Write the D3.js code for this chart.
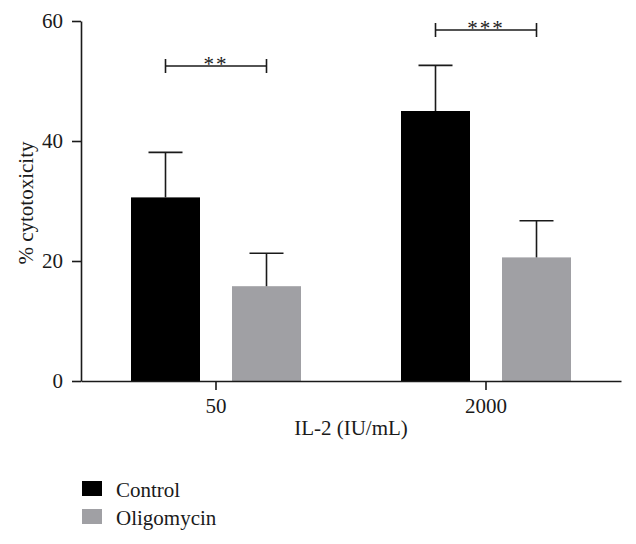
<!DOCTYPE html>
<html>
<head>
<meta charset="utf-8">
<script src="https://cdn.jsdelivr.net/npm/d3@7"></script>
<style>
  body { margin: 0; background: #fff; }
  svg { display: block; }
  text { font-family: "Liberation Serif", "DejaVu Serif", serif; fill: #1a1a1a; }
</style>
</head>
<body>
<svg id="chart" width="636" height="544"></svg>
<script>
const categories = ["50", "2000"];
const seriesNames = ["Control", "Oligomycin"];
const controlValues = [30.6, 45.0];
const controlErrors = [7.5, 7.6];
const oligomycinValues = [15.8, 20.6];
const oligomycinErrors = [5.5, 6.1];
const yTicks = [0, 20, 40, 60];
const significance = ["**", "***"];
const colors = { Control: "#000000", Oligomycin: "#a0a0a4" };

const data = categories.map((c, i) => ({
  cat: c,
  bars: [
    { series: "Control", value: controlValues[i], err: controlErrors[i] },
    { series: "Oligomycin", value: oligomycinValues[i], err: oligomycinErrors[i] }
  ]
}));

const svg = d3.select("#chart");
const mLeft = 81, mRight = 621, mTop = 21, mBottom = 381;
const FS = 21;

const y = d3.scaleLinear().domain([0, 60]).range([mBottom, mTop]);
const x0 = d3.scaleBand().domain(categories).range([mLeft, mRight])
  .paddingInner(100 / 270).paddingOuter(50 / 270);
const x1 = d3.scaleBand().domain(seriesNames).range([0, x0.bandwidth()])
  .paddingInner(32 / 101).paddingOuter(0);

// bars
const groups = svg.selectAll("g.grp").data(data).enter().append("g")
  .attr("class", "grp")
  .attr("transform", d => `translate(${x0(d.cat)},0)`);

groups.selectAll("rect").data(d => d.bars).enter().append("rect")
  .attr("x", d => x1(d.series))
  .attr("y", d => y(d.value))
  .attr("width", x1.bandwidth())
  .attr("height", d => y(0) - y(d.value))
  .attr("fill", d => colors[d.series]);

// error bars (upper only)
const capHalf = 17;
groups.selectAll("g.err").data(d => d.bars).enter().append("g")
  .attr("class", "err")
  .each(function(d) {
    const g = d3.select(this);
    const cx = x1(d.series) + x1.bandwidth() / 2;
    g.append("line").attr("x1", cx).attr("x2", cx)
      .attr("y1", y(d.value)).attr("y2", y(d.value + d.err))
      .attr("stroke", "#1a1a1a").attr("stroke-width", 1.6);
    g.append("line").attr("x1", cx - capHalf).attr("x2", cx + capHalf)
      .attr("y1", y(d.value + d.err)).attr("y2", y(d.value + d.err))
      .attr("stroke", "#1a1a1a").attr("stroke-width", 1.6);
  });

// significance brackets
const bracketY = [52.5, 58.5];
groups.each(function(d, i) {
  const g = d3.select(this);
  const xa = x1("Control") + x1.bandwidth() / 2;
  const xb = x1("Oligomycin") + x1.bandwidth() / 2;
  const yy = y(bracketY[i]);
  g.append("line").attr("x1", xa).attr("x2", xb).attr("y1", yy).attr("y2", yy)
    .attr("stroke", "#1a1a1a").attr("stroke-width", 1.6);
  [xa, xb].forEach(xx => g.append("line").attr("x1", xx).attr("x2", xx)
    .attr("y1", yy - 7).attr("y2", yy + 7)
    .attr("stroke", "#1a1a1a").attr("stroke-width", 1.6));
  g.append("text").attr("x", (xa + xb) / 2).attr("y", yy + 5)
    .attr("text-anchor", "middle").attr("font-size", 21)
    .attr("letter-spacing", 2)
    .text(significance[i]);
});

// y axis
const yAxis = d3.axisLeft(y).tickValues(yTicks).tickSize(9).tickPadding(9).tickSizeOuter(0);
const gy = svg.append("g").attr("transform", `translate(${mLeft},0)`).call(yAxis);
gy.select(".domain").attr("stroke", "#1a1a1a").attr("stroke-width", 1.6);
gy.selectAll(".tick line").attr("stroke", "#1a1a1a").attr("stroke-width", 1.6);
gy.selectAll(".tick text").attr("font-size", FS).attr("font-family", "Liberation Serif").attr("fill", "#1a1a1a");

// x axis
const xAxis = d3.axisBottom(x0).tickSize(9).tickPadding(8).tickSizeOuter(0);
const gx = svg.append("g").attr("transform", `translate(0,${mBottom})`).call(xAxis);
gx.select(".domain").attr("stroke", "#1a1a1a").attr("stroke-width", 1.6);
gx.selectAll(".tick line").attr("stroke", "#1a1a1a").attr("stroke-width", 1.6);
gx.selectAll(".tick text").attr("font-size", FS).attr("font-family", "Liberation Serif").attr("fill", "#1a1a1a");

// axis titles
svg.append("text").attr("x", 351).attr("y", 435)
  .attr("text-anchor", "middle").attr("font-size", FS).text("IL-2 (IU/mL)");
svg.append("text").attr("transform", `translate(33,203) rotate(-90)`)
  .attr("text-anchor", "middle").attr("font-size", FS).text("% cytotoxicity");

// legend
const legend = svg.append("g").selectAll("g").data(seriesNames).enter().append("g")
  .attr("transform", (d, i) => `translate(82,${481 + i * 28})`);
legend.append("rect").attr("width", 20).attr("height", 15).attr("fill", d => colors[d]);
legend.append("text").attr("x", 34).attr("y", 15.5).attr("font-size", FS).text(d => d);
</script>
</body>
</html>
